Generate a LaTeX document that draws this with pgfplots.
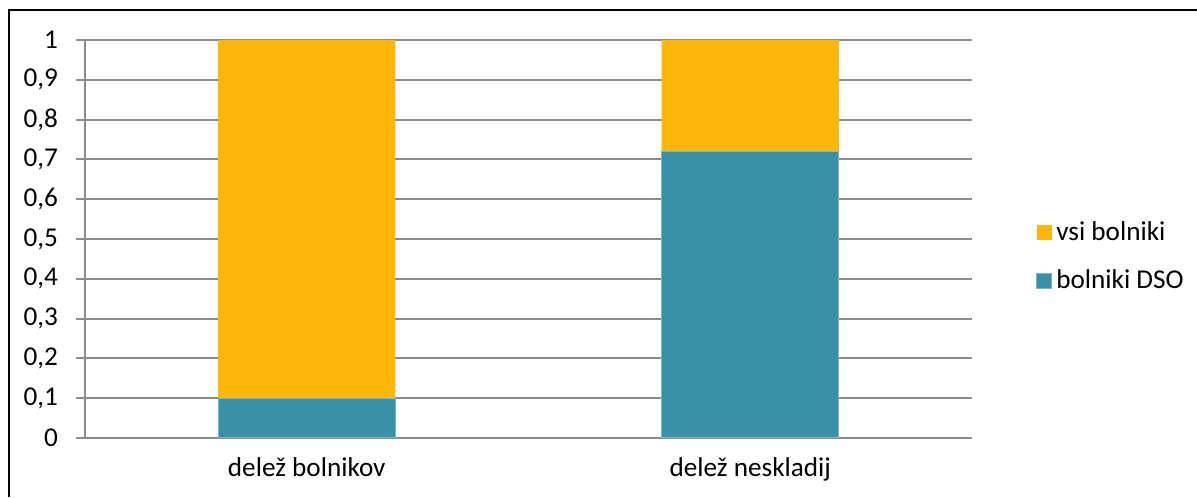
\documentclass[border=0pt]{standalone}
\usepackage{pgfplots}
\pgfplotsset{compat=1.18}
\usepackage{fontspec}
\setmainfont{Carlito}
\definecolor{cyel}{RGB}{255,182,10}
\definecolor{cteal}{RGB}{58,145,167}
\definecolor{ctealb}{RGB}{120,185,200}
\definecolor{cgrid}{RGB}{140,140,140}
\begin{document}
\begin{tikzpicture}
\useasboundingbox (0,0) rectangle (598.5pt,248.5pt);
\fill[white] (0,0) rectangle (598.5pt,248.5pt);
\draw[line width=1pt,black] (4.5pt,0) -- (4.5pt,243.5pt) -- (598.5pt,243.5pt);
\begin{axis}[
  at={(42.5pt,29.5pt)}, anchor=south west,
  scale only axis, width=443.5pt, height=199pt,
  ybar stacked, bar width=0.4,
  xmin=-0.5, xmax=1.5, ymin=0, ymax=1,
  xtick={0,1}, xticklabels={delež bolnikov, delež neskladij},
  major x tick style={draw=none},
  extra x ticks={-0.5,0.5,1.5}, extra x tick labels={},
  extra x tick style={major tick style={draw=cgrid, line width=1pt}, major tick length=4.5pt, tick align=outside},
  ytick={0,0.1,0.2,0.3,0.4,0.5,0.6,0.7,0.8,0.9,1},
  yticklabels={0,{0,1},{0,2},{0,3},{0,4},{0,5},{0,6},{0,7},{0,8},{0,9},1},
  tick align=outside, major tick length=4.5pt,
  tick style={draw=cgrid, line width=1pt},
  ymajorgrids, grid style={draw=cgrid, line width=1pt},
  axis x line*=bottom, axis y line*=left,
  axis line style={draw=cgrid, line width=1pt, -},
  tick label style={font=\fontsize{13.6}{16}\selectfont, text=black},
  yticklabel style={xshift=-5.5pt},
  xticklabel style={yshift=-2pt},
  /pgf/number format/assume math mode=true,
  reverse legend,
  legend style={at={(1.072,0.456)}, anchor=west, draw=none, fill=none, inner sep=0pt,
    font=\fontsize{13.6}{16}\selectfont, row sep=9.5pt,
    /tikz/every even column/.append style={column sep=0pt}},
  legend cell align=left,
  legend image code/.code={\fill[#1] (0pt,-3.75pt) rectangle (7.5pt,3.75pt);},
]
\addplot[fill=cteal, draw=ctealb, line width=0.5pt] coordinates {(0,0.1) (1,0.72)};
\addplot[fill=cyel, draw=none] coordinates {(0,0.9) (1,0.28)};
\legend{bolniki DSO, vsi bolniki}
\end{axis}
\end{tikzpicture}
\end{document}
